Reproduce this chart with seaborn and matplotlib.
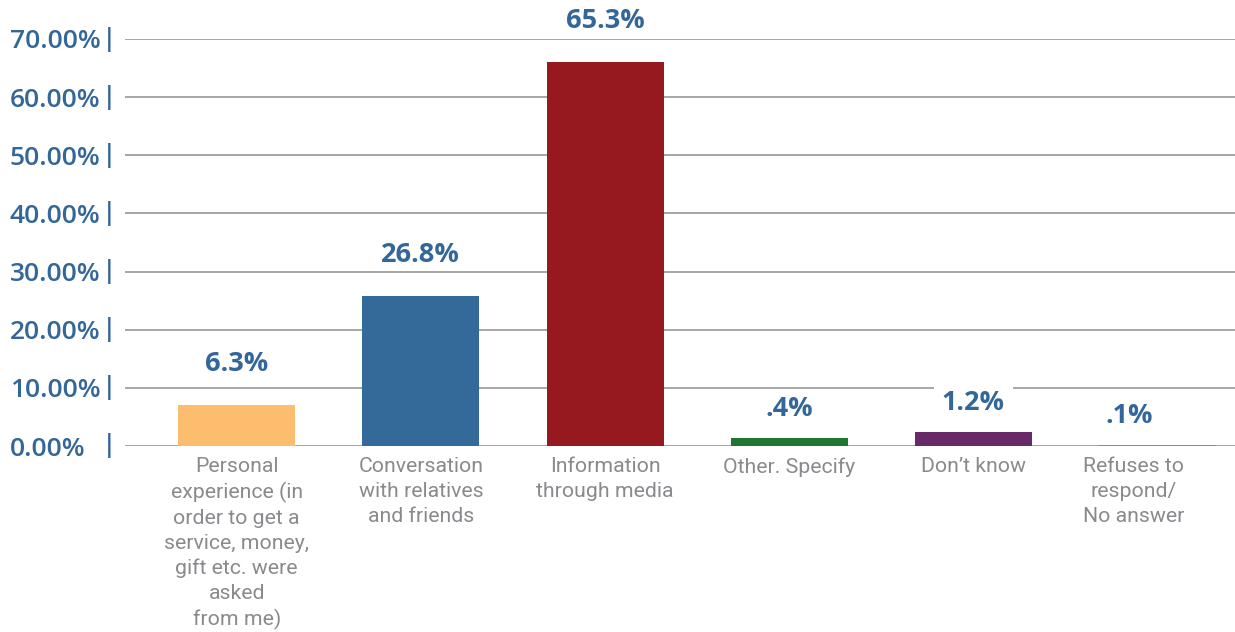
import matplotlib
matplotlib.use("Agg")
import matplotlib.pyplot as plt
import matplotlib.transforms as mtransforms
import seaborn as sns

# Chart data (bar heights as drawn in the picture, labels as printed)
categories = [
    "Personal\nexperience (in\norder to get a\nservice, money,\ngift etc. were\nasked\nfrom me)",
    "Conversation\nwith relatives\nand friends",
    "Information\nthrough media",
    "Other. Specify",
    "Don\u2019t know",
    "Refuses to\nrespond/\nNo answer",
]
values = [7.0, 25.8, 66.0, 1.3, 2.4, 0.1]
value_labels = ["6.3%", "26.8%", "65.3%", ".4%", "1.2%", ".1%"]
bar_colors = ["#FDBD6E", "#336A99", "#95191E", "#1E7631", "#672A66", "#8C8C8C"]
y_ticks = [0, 10, 20, 30, 40, 50, 60, 70]

BLUE = "#336699"
GRAY_TEXT = "#8A8A8E"


def main():
    sns.set_style("white")
    plt.rcParams["font.family"] = ["Open Sans", "DejaVu Sans"]

    fig = plt.figure(figsize=(12.35, 6.32), dpi=100)
    ax = fig.add_axes([125 / 1235, 186 / 632, 1110 / 1235, 407 / 632])

    sns.barplot(x=categories, y=values, hue=categories, palette=bar_colors,
                legend=False, width=0.635, saturation=1, linewidth=0,
                ax=ax, zorder=3)

    ax.set_xlim(-0.606, 5.42)
    ax.set_ylim(0, 70)

    # gridlines
    ax.set_yticks(y_ticks)
    ax.grid(axis="y", color="#A6A6A6", linewidth=1.4, zorder=0)
    ax.grid(axis="x", visible=False)
    for s in ax.spines.values():
        s.set_visible(False)

    # y tick labels, left aligned, with a separate "|" marker
    ax.set_yticklabels([f"{v:.2f}%" for v in y_ticks], fontsize=19,
                       fontweight="semibold", color=BLUE)
    ax.tick_params(axis="y", length=0, pad=83)
    for lbl in ax.get_yticklabels():
        lbl.set_horizontalalignment("left")
    for v in y_ticks:
        ax.text(-16 / 1110, v, "|", transform=ax.get_yaxis_transform(),
                ha="center", va="center", fontsize=19, color=BLUE,
                fontweight="semibold", clip_on=False)

    # category labels
    ax.set_xlabel("")
    ax.set_ylabel("")
    ax.tick_params(axis="x", length=0, pad=8)
    ax.set_xticks(range(len(categories)))
    ax.set_xticklabels(categories, fontsize=15.3, color=GRAY_TEXT,
                       family=["Roboto", "DejaVu Sans"], linespacing=1.38,
                       va="top")
    shift = mtransforms.ScaledTranslation(-24 / 100, 0, fig.dpi_scale_trans)
    last = ax.get_xticklabels()[-1]
    last.set_transform(last.get_transform() + shift)

    # value labels
    for i, (v, txt) in enumerate(zip(values, value_labels)):
        offset = 41 if v > 5 else 29
        dx = -28 if i == len(values) - 1 else 0
        bbox = dict(facecolor="white", edgecolor="none", pad=6) if txt == "1.2%" else None
        ax.annotate(txt, (i, v), xytext=(dx, offset), textcoords="offset pixels",
                    ha="center", va="center", fontsize=19.5, fontweight="bold",
                    color=BLUE, bbox=bbox, annotation_clip=False, zorder=4)

    fig.savefig("out.png", dpi=100)
    plt.close(fig)


if __name__ == "__main__":
    main()
